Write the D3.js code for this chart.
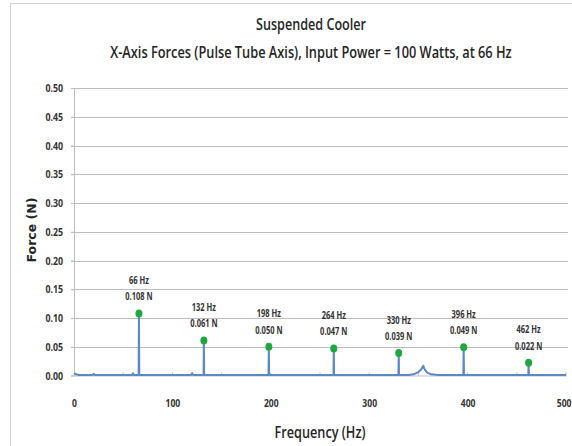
<!DOCTYPE html>
<html>
<head>
<meta charset="utf-8">
<script src="https://cdn.jsdelivr.net/npm/d3@7"></script>
<style>
  body { margin: 0; background: #fff; }
  svg { display: block; }
  text { font-family: "Open Sans", sans-serif; fill: #262626; }
</style>
</head>
<body>
<div id="chart"></div>
<script>
// spectrum trace (Hz, N)
const spectrumFreq = [0, 2, 5, 19, 20, 21, 59, 60, 61, 65.7, 66, 66.3, 119, 120, 121, 131.7, 132, 132.3,
  197.7, 198, 198.3, 263.7, 264, 264.3, 329.7, 330, 330.3, 340, 345, 350, 353, 355, 356.5, 359, 363, 370,
  395.7, 396, 396.3, 461.7, 462, 462.3, 500]
const spectrumForce = [0.004, 0.002, 0.001, 0.001, 0.003, 0.001, 0.001, 0.004, 0.001, 0.001, 0.108, 0.001, 0.001, 0.004, 0.001, 0.001, 0.061, 0.001,
  0.001, 0.050, 0.001, 0.001, 0.047, 0.001, 0.001, 0.039, 0.001, 0.001, 0.002, 0.006, 0.011, 0.017, 0.010, 0.005, 0.002, 0.001,
  0.001, 0.049, 0.001, 0.001, 0.022, 0.001, 0.001]

// marked harmonics
const peakFreq = [66, 132, 198, 264, 330, 396, 462]
const peakForce = [0.108, 0.061, 0.050, 0.047, 0.039, 0.049, 0.022]

const xTicks = [0, 100, 200, 300, 400, 500]
const xMinorTicks = [50, 100, 150, 200, 250, 300, 350, 400, 450, 500]
const yTicks = [0, 0.05, 0.10, 0.15, 0.20, 0.25, 0.30, 0.35, 0.40, 0.45, 0.50]

const titleLines = ['Suspended Cooler', 'X-Axis Forces (Pulse Tube Axis), Input Power = 100 Watts, at 66 Hz']

const width = 572, height = 446
const plotLeft = 74, plotRight = 566, plotTop = 88, plotBottom = 375.5

// squeeze text horizontally (Calibri is narrower than anything installed)
// k is a factor, or a target width in px when wide is set
function condense(sel, k, wide) {
  sel.each(function() {
    const t = d3.select(this)
    const f = wide ? k / this.getComputedTextLength() : k
    const x0 = +t.attr('x') || 0
    t.attr('x', x0 / f).attr('transform', 'scale(' + f + ',1)')
  })
}

const svg = d3.select('#chart').append('svg')
  .attr('width', width)
  .attr('height', height)

// outer chart frame
svg.append('rect')
  .attr('x', 10.5).attr('y', 3.5)
  .attr('width', 600).attr('height', 460)
  .attr('fill', 'none')
  .attr('stroke', '#d0d0d0')

const x = d3.scaleLinear().domain([0, 500]).range([plotLeft, plotRight])
const y = d3.scaleLinear().domain([0, 0.5]).range([plotBottom, plotTop])

// gridlines
svg.append('g')
  .selectAll('line')
  .data(yTicks.slice(1))
  .join('line')
  .attr('x1', plotLeft - 3).attr('x2', plotRight + 2)
  .attr('y1', d => Math.round(y(d)) + 0.5).attr('y2', d => Math.round(y(d)) + 0.5)
  .attr('stroke', '#bdbdbd')

// y axis
const yAxis = svg.append('g')
  .attr('transform', 'translate(' + plotLeft + ',0)')
  .call(d3.axisLeft(y).tickValues(yTicks).tickFormat(d3.format('.2f')).tickSize(3).tickPadding(8))
yAxis.select('.domain').attr('stroke', '#bdbdbd')
yAxis.selectAll('.tick line').attr('stroke', '#bdbdbd')
yAxis.selectAll('text').attr('font-size', 11).attr('font-weight', 'bold').style('fill', '#333')
  .call(condense, 0.8)

// x axis: minor marks inside, labels every 100
const xAxis = svg.append('g')
  .attr('transform', 'translate(0,' + plotBottom + ')')
  .call(d3.axisBottom(x).tickValues(xTicks).tickSize(0).tickPadding(24))
xAxis.select('.domain').attr('stroke', '#bdbdbd')
// last label sits against the right edge, as in the original
xAxis.selectAll('.tick').filter(d => d === 500).select('text')
  .attr('text-anchor', 'end').attr('x', 5)
xAxis.selectAll('text').attr('font-size', 11).attr('font-weight', 'bold').style('fill', '#333')
  .call(condense, 0.78)

svg.append('g')
  .selectAll('line')
  .data(xMinorTicks)
  .join('line')
  .attr('x1', d => x(d)).attr('x2', d => x(d))
  .attr('y1', plotBottom).attr('y2', plotBottom - 3)
  .attr('stroke', '#bdbdbd')

// spectrum
const line = d3.line()
  .x((d, i) => x(spectrumFreq[i]))
  .y(d => y(d))

svg.append('path')
  .datum(spectrumForce)
  .attr('d', line)
  .attr('fill', 'none')
  .attr('stroke', '#5a8ac6')
  .attr('stroke-width', 2)
  .attr('stroke-linejoin', 'round')

// peak markers
svg.append('g')
  .selectAll('ellipse')
  .data(peakFreq)
  .join('ellipse')
  .attr('cx', d => x(d))
  .attr('cy', (d, i) => y(peakForce[i]))
  .attr('rx', 3.5).attr('ry', 4)
  .attr('fill', '#1fa840')

// peak labels
const labels = svg.append('g')
  .selectAll('g')
  .data(peakFreq)
  .join('g')
  .attr('transform', (d, i) => 'translate(' + x(d) + ',' + y(peakForce[i]) + ')')
  .attr('text-anchor', 'middle')
  .attr('font-size', 10)
  .attr('font-weight', 'bold')

labels.append('text')
  .attr('y', -29.5)
  .style('fill', '#333')
  .text(d => d + ' Hz')
labels.append('text')
  .attr('y', -13)
  .style('fill', '#333')
  .text((d, i) => d3.format('.3f')(peakForce[i]) + ' N')
labels.selectAll('text').call(condense, 0.75)

// titles
const title = svg.append('g')
  .attr('text-anchor', 'middle')
  .attr('font-size', 16)
  .attr('font-weight', 600)
title.append('g').attr('transform', 'translate(311,30)')
  .append('text').text(titleLines[0])
  .call(condense, 110, true)
title.append('g').attr('transform', 'translate(311,58)')
  .append('text').text(titleLines[1])
  .call(condense, 402, true)

// axis titles
svg.append('g')
  .attr('transform', 'translate(320,438)')
  .append('text')
  .attr('text-anchor', 'middle')
  .attr('font-size', 16)
  .attr('font-weight', 600)
  .text('Frequency (Hz)')
  .call(condense, 91, true)

svg.append('text')
  .attr('transform', 'translate(36,230) rotate(-90)')
  .attr('text-anchor', 'middle')
  .attr('font-size', 12.5)
  .attr('font-weight', 'bold')
  .style('font-family', '"DejaVu Sans", sans-serif')
  .text('Force (N)')
</script>
</body>
</html>
